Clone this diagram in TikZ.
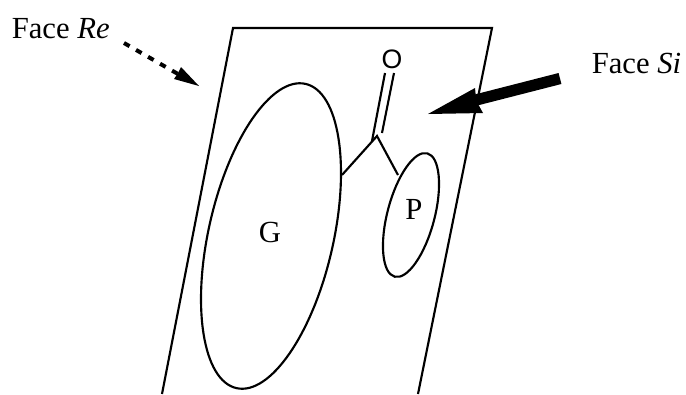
\documentclass[tikz,border=0pt]{standalone}
\usepackage{fontspec}
\setmainfont{Liberation Serif}
\newfontfamily\oxyfont{Liberation Sans}
\usetikzlibrary{arrows.meta,calc}
\tikzset{px/.style={x=0.75pt,y=-0.75pt},ln/.style={line width=1.6pt,line join=miter},lbl/.style={font=\fontsize{23pt}{25pt}\selectfont,inner sep=0pt}}
\begin{document}
\begin{tikzpicture}[px]
\useasboundingbox (0,0) rectangle (686,394);
\coordinate (pa) at (162,394);
\coordinate (pb) at (233,28);
\coordinate (pc) at (492,28);
\coordinate (pd) at (418,394);
\draw[ln] (pa)--(pb)--(pc)--(pd);
\draw[ln,rotate around={-12.8:(271,236)}] (271,236) ellipse [x radius=62.4,y radius=156];
\draw[ln,rotate around={-14.8:(411,215)}] (411,215) ellipse [x radius=23.6,y radius=63.8];
\coordinate (c) at (377,136);
\draw[ln] (342,175)--(c)--(398,175);
\draw[ln] (372,141)--(385,73);
\draw[ln] (382,133)--(394,73);
\node[font=\oxyfont\fontsize{20pt}{22pt}\selectfont,inner sep=0pt] (o) at (392,59) {O};
\node[lbl] (g) at (270,232) {G};
\node[lbl] (p) at (414,209) {P};
\node[lbl,anchor=base west] (re) at (11.5,38) {Face \textit{Re}};
\node[lbl,anchor=base west] (si) at (591.5,73) {Face \textit{Si}};
\coordinate (r1) at (124,43);
\coordinate (r2) at (178,74);
\coordinate (r3) at (199,86);
\draw[line width=3pt,dash pattern=on 4.8pt off 5.6pt] (r1)--(r2);
\fill (r3)--(181,67)--(178,73)--(174,79)--cycle;
\coordinate (s1) at (560,78.5);
\coordinate (s2) at (476,100);
\draw[line width=8.5pt] (s1)--(s2);
\fill (428,114)--(475,88)--(476,98)--(478,104)--(483,113)--cycle;
\end{tikzpicture}
\end{document}
